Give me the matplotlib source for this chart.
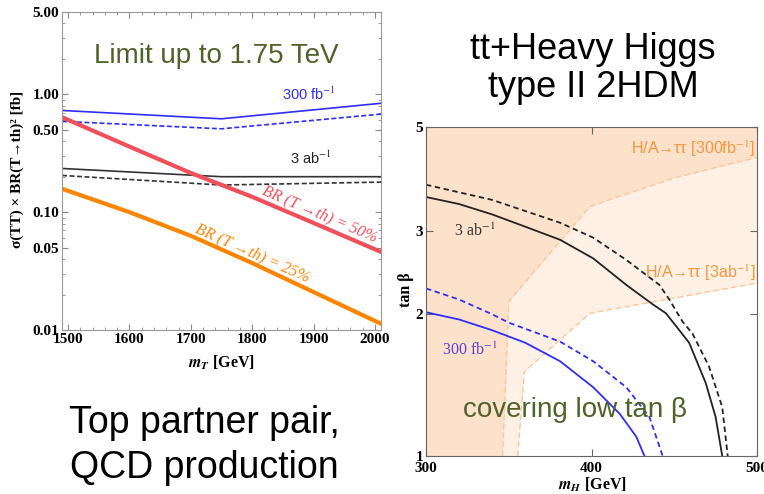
import matplotlib
matplotlib.use("Agg")
import matplotlib.pyplot as plt
from matplotlib.ticker import FixedLocator, NullFormatter, LogLocator, MultipleLocator

plt.rcParams["mathtext.fontset"] = "stix"

# ---- left panel: top partner pair limits ----
mT_lim = [1490, 1750, 2010]
lim_300_solid = [0.73, 0.62, 0.84]
lim_300_dash = [0.59, 0.51, 0.68]
lim_3ab_solid = [0.235, 0.20, 0.20]
lim_3ab_dash = [0.205, 0.17, 0.18]

mT_br = [1490, 1600, 1700, 1800, 1900, 2010]
br_50 = [0.64, 0.36, 0.215, 0.135, 0.081, 0.046]
br_25 = [0.158, 0.10, 0.063, 0.037, 0.021, 0.0113]

left_yticks = [0.01, 0.05, 0.10, 0.50, 1.00, 5.00]
left_yticklabels = ["0.01", "0.05", "0.10", "0.50", "1.00", "5.00"]
left_xticks = [1500, 1600, 1700, 1800, 1900, 2000]

# ---- right panel: heavy Higgs in type II 2HDM ----
mH_3ab_solid = [300, 320, 340, 360, 381, 401, 421, 437, 445, 459, 469, 475, 479]
tb_3ab_solid = [3.55, 3.43, 3.26, 3.07, 2.88, 2.63, 2.31, 2.10, 2.01, 1.74, 1.43, 1.21, 1.0]
mH_3ab_dash = [300, 340, 381, 401, 421, 441, 447, 455, 461, 471, 479, 482.3]
tb_3ab_dash = [3.77, 3.50, 3.13, 2.91, 2.61, 2.31, 2.15, 1.93, 1.82, 1.55, 1.27, 1.0]
mH_300_solid = [300, 320, 340, 360, 381, 401, 417, 427, 432]
tb_300_solid = [2.02, 1.95, 1.85, 1.74, 1.59, 1.40, 1.23, 1.10, 1.0]
mH_300_dash = [300, 320, 340, 350, 381, 401, 421, 435, 443]
tb_300_dash = [2.27, 2.15, 2.0, 1.92, 1.75, 1.59, 1.40, 1.21, 1.0]

# H/A -> tautau exclusion boundaries (excluded above/left)
mH_tau300 = [346.3, 350, 399, 450, 500]
tb_tau300 = [1.0, 2.13, 3.39, 3.9, 4.31]
mH_tau3ab = [355.4, 359.4, 399, 500]
tb_tau3ab = [1.0, 1.51, 2.01, 2.33]

right_yticks = [1, 2, 3, 5]
right_xticks = [300, 400, 500]

W, H = 764, 494
green = "#4F6228"
serif = "Liberation Serif"
sans = "Liberation Sans"


def fx(px):
    return px / W


def fy(py):
    return 1 - py / H


fig = plt.figure(figsize=(W / 100, H / 100), dpi=100)

# %% left panel
ax1 = fig.add_axes([fx(62), fy(330), 319 / W, 318 / H])
ax1.set_yscale("log")
ax1.set_xlim(1490, 2010)
ax1.set_ylim(0.01, 5.0)

ax1.plot(mT_lim, lim_300_solid, color="#2E2EF5", lw=1.2)
ax1.plot(mT_lim, lim_300_dash, color="#2E2EF5", lw=1.2, ls=(0, (3, 1.5)))
ax1.plot(mT_lim, lim_3ab_solid, color="#333333", lw=1.2)
ax1.plot(mT_lim, lim_3ab_dash, color="#333333", lw=1.2, ls=(0, (3, 1.5)))
ax1.plot(mT_br, br_50, color="#F0505C", lw=3)
ax1.plot(mT_br, br_25, color="#FF8400", lw=3)

ax1.yaxis.set_major_locator(FixedLocator(left_yticks))
ax1.set_yticklabels(left_yticklabels)
ax1.yaxis.set_minor_locator(LogLocator(subs=range(2, 10)))
ax1.yaxis.set_minor_formatter(NullFormatter())
ax1.set_xticks(left_xticks)
ax1.xaxis.set_minor_locator(MultipleLocator(20))
ax1.tick_params(which="both", direction="in", top=True, right=True, color="#888888")
ax1.tick_params(which="major", length=4, pad=2)
ax1.tick_params(which="minor", length=2)
for lab in ax1.get_xticklabels() + ax1.get_yticklabels():
    lab.set_fontfamily(serif)
    lab.set_fontweight("bold")
    lab.set_fontsize(11)
for sp in ax1.spines.values():
    sp.set_color("#999999")

ax1.text(1741, 1.84, "Limit up to 1.75 TeV", color=green, fontsize=20,
         family=sans, ha="center", va="baseline")
ax1.text(1893, 0.89, "300 fb$^{-1}$", color="#2E2EF5",
         fontsize=10.5, family=sans, ha="center", va="baseline")
ax1.text(1896, 0.258, "3 ab$^{-1}$", color="#222222",
         fontsize=10.5, family=sans, ha="center", va="baseline")
ax1.text(1911, 0.097, "BR (T →th) = 50%", color="#F0505C", fontsize=11.5,
         family=serif, style="italic", rotation=-23, ha="center", va="center",
         rotation_mode="anchor")
ax1.text(1800, 0.045, "BR (T →th) = 25%", color="#FF8400", fontsize=11.5,
         family=serif, style="italic", rotation=-24, ha="center", va="center",
         rotation_mode="anchor")

fig.text(fx(17), fy(169), "σ(TT) × BR(T→th)² [fb]", rotation=90, ha="center",
         va="center", family=serif, fontweight="bold", fontsize=11)
fig.text(fx(222), fy(368), r"$\mathbfit{m}_{\mathbfit{T}}$ [GeV]", ha="center",
         va="baseline", family=serif, fontweight="bold", fontsize=11.5)

# %% right panel
ax2 = fig.add_axes([fx(426), fy(456), 331 / W, 329 / H])
ax2.set_yscale("log")
ax2.set_xlim(300, 500)
ax2.set_ylim(1, 5)

ax2.fill_between(mH_tau3ab + [500], tb_tau3ab + [tb_tau3ab[-1]], 5,
                 color="#FEF0E4", lw=0, zorder=0)
ax2.fill_betweenx([1, 5], 300, mH_tau3ab[0], color="#FEF0E4", lw=0, zorder=0)
ax2.fill_between(mH_tau300, tb_tau300, 5, color="#FDE2CB", lw=0, zorder=0.5)
ax2.fill_betweenx([1, 5], 300, mH_tau300[0], color="#FDE2CB", lw=0, zorder=0.5)
ax2.plot(mH_tau3ab, tb_tau3ab, color="#FFC697", lw=1, ls=(0, (4, 2.5)), zorder=1)
ax2.plot(mH_tau300, tb_tau300, color="#FFC697", lw=1, ls=(0, (4, 2.5)), zorder=1)

ax2.plot(mH_3ab_solid, tb_3ab_solid, color="#222222", lw=1.3, zorder=2)
ax2.plot(mH_3ab_dash, tb_3ab_dash, color="#222222", lw=1.3, ls=(0, (3, 2)), zorder=2)
ax2.plot(mH_300_solid, tb_300_solid, color="#2E2EF5", lw=1.3, zorder=2)
ax2.plot(mH_300_dash, tb_300_dash, color="#2E2EF5", lw=1.3, ls=(0, (3, 2)), zorder=2)

ax2.yaxis.set_major_locator(FixedLocator(right_yticks))
ax2.set_yticklabels([str(t) for t in right_yticks])
ax2.yaxis.set_minor_locator(FixedLocator([]))
ax2.set_xticks(right_xticks)
ax2.tick_params(which="both", direction="in", top=True, right=True,
                color="#666666", length=5)
ax2.tick_params(axis="y", pad=2)
ax2.tick_params(axis="x", pad=4)
for lab in ax2.get_xticklabels() + ax2.get_yticklabels():
    lab.set_fontfamily(serif)
    lab.set_fontweight("bold")
    lab.set_fontsize(11)
for sp in ax2.spines.values():
    sp.set_color("#666666")

ax2.text(498.8, 4.39, r"H/A→ττ [300fb$^{-1}$]", color="#F7963E", fontsize=11.5,
         family=sans, ha="right", va="baseline")
ax2.text(498.8, 2.39, r"H/A→ττ [3ab$^{-1}$]", color="#F7963E", fontsize=11.5,
         family=sans, ha="right", va="baseline")
ax2.text(329.2, 2.93, r"3 ab$^{-1}$", color="#333333", fontsize=11.5,
         family=serif, ha="center", va="baseline")
ax2.text(326.2, 1.64, r"300 fb$^{-1}$", color="#5B3FD6", fontsize=11.5,
         family=serif, ha="center", va="baseline")
ax2.text(390, 1.21, "covering low tan β", color=green, fontsize=20,
         family=sans, ha="center", va="baseline", zorder=3)

fig.text(fx(406), fy(290), "tan β", rotation=90, ha="center", va="center",
         family=serif, fontweight="bold", fontsize=11.5)
fig.text(fx(592), fy(490), r"$\mathbfit{m}_{\mathbfit{H}}$ [GeV]", ha="center",
         va="baseline", family=serif, fontweight="bold", fontsize=11.5)

# %% slide text
fig.text(fx(593), fy(59), "tt+Heavy Higgs", ha="center", va="baseline",
         family=sans, fontsize=26)
fig.text(fx(593), fy(97), "type II 2HDM", ha="center", va="baseline",
         family=sans, fontsize=26)
fig.text(fx(204), fy(433), "Top partner pair,", ha="center", va="baseline",
         family=sans, fontsize=27)
fig.text(fx(204), fy(478), "QCD production", ha="center", va="baseline",
         family=sans, fontsize=27)

fig.savefig("out.png", dpi=100)
